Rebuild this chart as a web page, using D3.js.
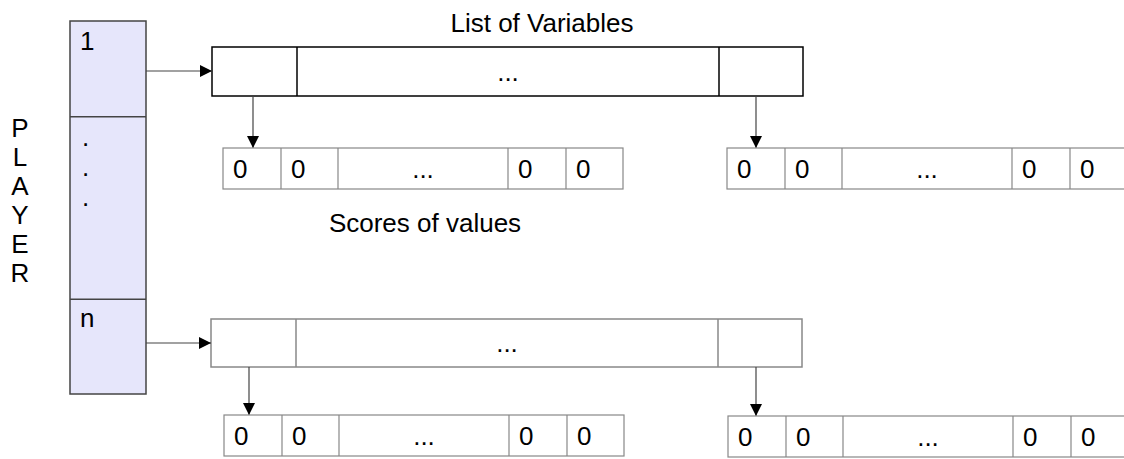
<!DOCTYPE html>
<html><head><meta charset="utf-8">
<script src="https://cdn.jsdelivr.net/npm/d3@7"></script>
<style>body{margin:0;background:#fff}svg{display:block}text{font-family:"Liberation Sans",Arial,sans-serif;fill:#000}</style>
</head><body>
<svg id="c" width="1124" height="459"></svg>
<script>
// diagram content
const playerLetters = ["P","L","A","Y","E","R"];
const playerSlots = ["1", ".", "n"];
const variableCells = ["", "...", ""];
const variableBounds = [0, 85, 507, 591];          // relative cell boundaries of variable list
const scoreCells = ["0","0","...","0","0"];
const scoreBounds = [0, 58, 115, 285, 343, 400];    // relative cell boundaries of score row
const rows = [
  {listX: 212, listY: 47, listH: 49, stroke: "#000", playerArrowY: 71},
  {listX: 211, listY: 319, listH: 48, stroke: "#888", playerArrowY: 343}
];
const scoreRowOffsets = [[223, 148], [727, 148], [224, 415], [728, 416]];

const FS = 26;
const svg = d3.select("#c");
const defs = svg.append("defs");
defs.append("marker").attr("id","ah").attr("viewBox","0 0 10 10").attr("refX",10).attr("refY",5)
  .attr("markerWidth",19).attr("markerHeight",12).attr("markerUnits","userSpaceOnUse").attr("orient","auto")
  .append("path").attr("d","M0,0L10,5L0,10Z").attr("fill","#000");

// player column
const py = d3.scaleLinear().domain([0,1]).range([21,394]);
const pdiv = [0, 0.257, 0.746, 1];
const pg = svg.append("g");
pg.append("rect").attr("x",70).attr("y",py(0)).attr("width",76).attr("height",py(1)-py(0))
  .attr("fill","#e6e6fb").attr("stroke","#444").attr("stroke-width",1.5);
pdiv.slice(1,3).forEach(d=>pg.append("line").attr("x1",70).attr("x2",146).attr("y1",py(d)).attr("y2",py(d)).attr("stroke","#444").attr("stroke-width",1.5));
pg.append("text").attr("x",80).attr("y",50).attr("font-size",FS).text(playerSlots[0]);
[146,176,206].forEach(y=>pg.append("text").attr("x",82).attr("y",y).attr("font-size",FS).text(playerSlots[1]));
pg.append("text").attr("x",80).attr("y",327).attr("font-size",FS).text(playerSlots[2]);

const ly = d3.scalePoint().domain(playerLetters).range([137,282]);
svg.selectAll("text.pl").data(playerLetters).join("text").attr("class","pl")
  .attr("x",20).attr("y",d=>ly(d)).attr("text-anchor","middle").attr("font-size",FS).text(d=>d);

// titles
svg.append("text").attr("x",542).attr("y",32).attr("text-anchor","middle").attr("font-size",FS).text("List of Variables");
svg.append("text").attr("x",425).attr("y",232).attr("text-anchor","middle").attr("font-size",FS).text("Scores of values");

function drawRow(x0, y0, h, bounds, labels, stroke, sw, fs){
  const x = d3.scaleLinear().domain([0,1]).range([x0, x0+1]);
  const g = svg.append("g");
  g.append("rect").attr("x",x(bounds[0])).attr("y",y0).attr("width",bounds[bounds.length-1]-bounds[0]).attr("height",h)
    .attr("fill","#fff").attr("stroke",stroke).attr("stroke-width",sw);
  bounds.slice(1,-1).forEach(b=>g.append("line").attr("x1",x(b)).attr("x2",x(b)).attr("y1",y0).attr("y2",y0+h).attr("stroke",stroke).attr("stroke-width",sw));
  labels.forEach((l,i)=>{
    const isDots = l==="...";
    g.append("text").attr("x", isDots ? (x(bounds[i])+x(bounds[i+1]))/2 : x(bounds[i])+10)
      .attr("y", y0+h/2+9).attr("text-anchor", isDots?"middle":"start").attr("font-size",fs).text(l);
  });
  return x;
}

rows.forEach((r,ri)=>{
  drawRow(r.listX, r.listY, r.listH, variableBounds, variableCells, r.stroke, 1.5, FS);
  // arrow from player
  svg.append("line").attr("x1",146).attr("x2",r.listX).attr("y1",r.playerArrowY).attr("y2",r.playerArrowY)
    .attr("stroke","#444").attr("stroke-width",1.2).attr("marker-end","url(#ah)");
  // down arrows
  [0,1].forEach(k=>{
    const [sx, sy] = scoreRowOffsets[ri*2+k];
    const ax = k===0 ? r.listX + (ri===0?41:38) : r.listX + variableBounds[2] + (ri===0?37:38);
    svg.append("line").attr("x1",ax).attr("x2",ax).attr("y1",r.listY+r.listH).attr("y2",sy)
      .attr("stroke","#444").attr("stroke-width",1.2).attr("marker-end","url(#ah)");
  });
});
scoreRowOffsets.forEach(([sx,sy])=>drawRow(sx, sy, 41, scoreBounds, scoreCells, "#888", 1.2, FS));
</script>
</body></html>
